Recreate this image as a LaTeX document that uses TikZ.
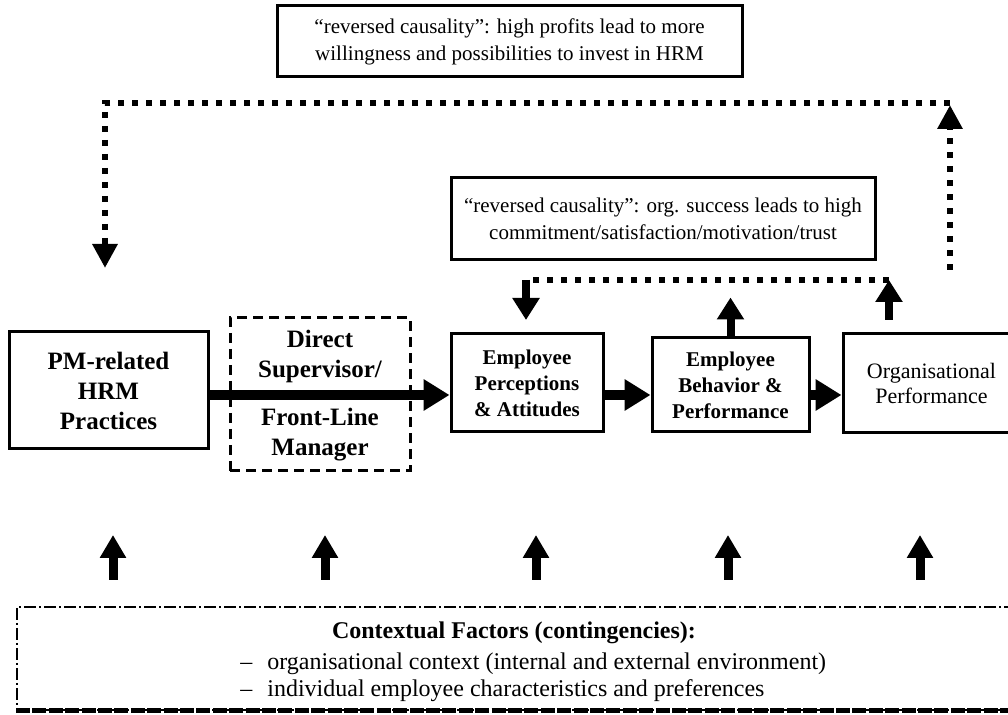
\documentclass[tikz,border=0pt]{standalone}
\usepackage{fontspec}
\setmainfont{Liberation Serif}
\usetikzlibrary{arrows.meta}
\begin{document}
\begin{tikzpicture}[x=0.5pt,y=-0.5pt,
  mainbox/.style={draw, line width=1.5pt, align=center, inner sep=0pt, fill=white},
  bigtxt/.style={font=\bfseries\fontsize{12.5}{15}\selectfont, align=center},
  midtxt/.style={font=\bfseries\fontsize{10.5}{13}\selectfont},
  notetxt/.style={font=\fontsize{10.5}{13.5}\selectfont},
  ctxtxt/.style={font=\fontsize{12}{14}\selectfont},
  dotline/.style={line width=3pt, dash pattern=on 3pt off 4pt},
  bigarrow/.style={line width=5pt, -{Triangle[width=15pt,length=13pt]}},
  medarrow/.style={line width=4pt, -{Triangle[width=13pt,length=11pt]}},
  uparrow/.style={line width=4.5pt, -{Triangle[width=12.5pt,length=11.5pt]}},
  dottip/.style={-{Triangle[width=12pt,length=12pt]}}
]
\useasboundingbox (0,0) rectangle (1008,715);

% top notes
\node[mainbox, notetxt, minimum width=232.5pt, minimum height=35.5pt] (rc1) at (509.5,41.5)
  {“reversed causality”: high profits lead to more\\willingness and possibilities to invest in HRM};
\node[mainbox, notetxt, minimum width=212pt, minimum height=41pt] (rc2) at (663,219)
  {“reversed causality”: org. success leads to high\\commitment/satisfaction/motivation/trust};

% main boxes
\node[mainbox, bigtxt, minimum width=99.5pt, minimum height=58.5pt] (pm) at (108.5,390.5)
  {PM-related\\HRM\\Practices};
\node[draw, line width=1.5pt, dash pattern=on 5pt off 3pt, minimum width=90pt, minimum height=76.5pt] (sup) at (320,394.5) {};
\node[bigtxt] (supA) at (320,356) {Direct\\Supervisor/};
\node[bigtxt] (supB) at (320,435) {Front-Line\\Manager};
\node[mainbox, midtxt, minimum width=76pt, minimum height=49pt] (perc) at (527,383)
  {Employee\\Perceptions\\\& Attitudes};
\node[mainbox, midtxt, minimum width=78.5pt, minimum height=47pt] (beh) at (730.5,385)
  {Employee\\Behavior \&\\Performance};
\node[mainbox, font=\fontsize{11}{12.5}\selectfont, minimum width=88.5pt, minimum height=49.5pt] (org) at (931.5,383.5)
  {Organisational\\Performance};

% main chain
\coordinate (yl) at (0,395);
\draw[bigarrow] (pm.east |- yl) -- (perc.west |- yl);
\draw[bigarrow] (perc.east |- yl) -- (beh.west |- yl);
\draw[bigarrow] (beh.east |- yl) -- (org.west |- yl);
\draw[medarrow] (beh.north) -- ++(0,-39);

% small feedback loop
\coordinate (s1) at (889,320);
\coordinate (s2) at (889,280);
\coordinate (s3) at (526,280);
\coordinate (s4) at (526,320);
\draw[dotline] (s2) -- (s3);
\draw[medarrow] (s1) -- (s2);
\draw[medarrow] (s3) -- (s4);

% big feedback loop
\coordinate (b1) at (950,270);
\coordinate (b2) at (950,103);
\coordinate (b3) at (105,103);
\coordinate (b4) at (105,268);
\draw[dotline, dottip] (b1) -- ([yshift=-1pt]b2);
\draw[dotline, dottip] (b2) -- (b3) -- (b4);

% context box
\node[draw, line width=1pt, dash pattern=on 6pt off 1.5pt on 1pt off 1.5pt, minimum width=499pt, minimum height=51.5pt] (ctx) at (516,658.5) {};
\draw[line width=2.5pt, dash pattern=on 7pt off 1.2pt] (ctx.south west) -- (ctx.south east);
\node[ctxtxt, font=\bfseries\fontsize{12}{14}\selectfont, anchor=base] (ctxh) at (514,639) {Contextual Factors (contingencies):};
\node[ctxtxt, anchor=base west, inner sep=0pt] (d1) at (240,670) {–};
\node[ctxtxt, anchor=base west, inner sep=0pt] (l1) at (267,670) {organisational context (internal and external environment)};
\node[ctxtxt, anchor=base west, inner sep=0pt] (d2) at (240,697) {–};
\node[ctxtxt, anchor=base west, inner sep=0pt] (l2) at (267,697) {individual employee characteristics and preferences};

% context arrows
\foreach \i/\x in {1/113,2/325,3/536,4/728,5/920}{
  \coordinate (ua\i) at (\x,580);
  \coordinate (ub\i) at (\x,535);
  \draw[uparrow] (ua\i) -- (ub\i);
}
\end{tikzpicture}
\end{document}
